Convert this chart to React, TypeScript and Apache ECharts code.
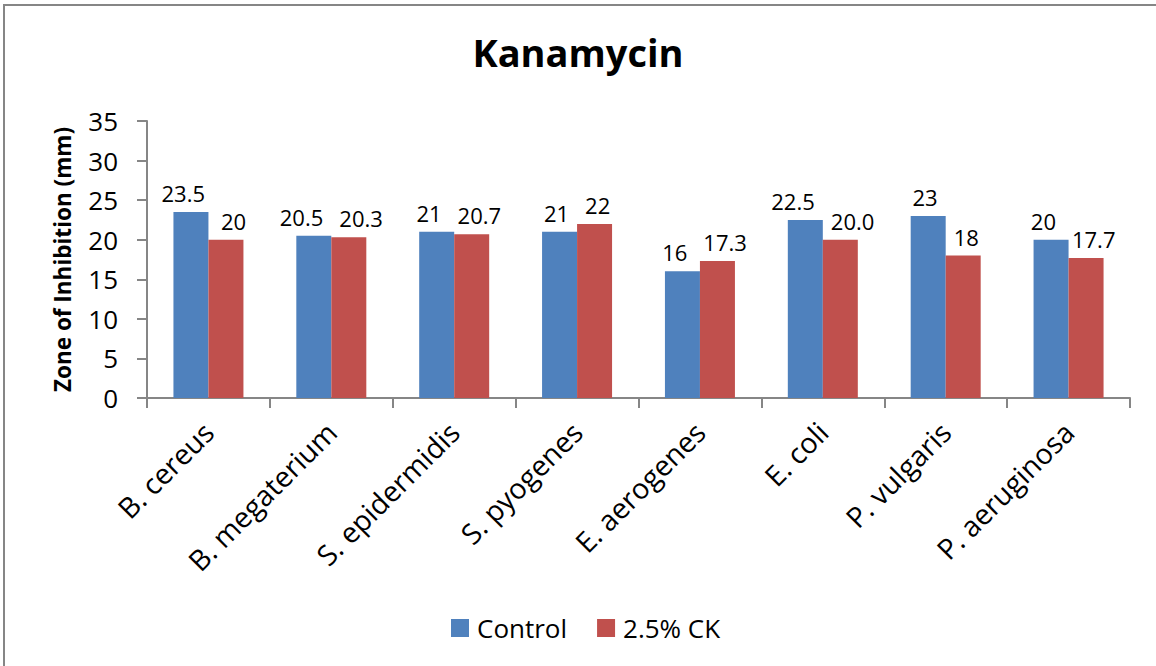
import React, { useEffect, useRef } from "react";
import * as echarts from "echarts";

const categories = [
  "B. cereus",
  "B. megaterium",
  "S. epidermidis",
  "S. pyogenes",
  "E. aerogenes",
  "E. coli",
  "P. vulgaris",
  "P. aeruginosa",
];
const controlValues = [23.5, 20.5, 21, 21, 16, 22.5, 23, 20];
const controlLabels = ["23.5", "20.5", "21", "21", "16", "22.5", "23", "20"];
const ckValues = [20, 20.3, 20.7, 22, 17.3, 20.0, 18, 17.7];
const ckLabels = ["20", "20.3", "20.7", "22", "17.3", "20.0", "18", "17.7"];
const seriesNames = ["Control", "2.5% CK"];
const yTicks = { min: 0, max: 35, interval: 5 };

const FONT = "'Open Sans', 'Noto Sans', sans-serif";
const LABEL_SIZE = 22;
const BAR_W = 35;
const MIN_LABEL_GAP = 16;

let measureCtx: CanvasRenderingContext2D | null = null;
function textWidth(s: string): number {
  if (!measureCtx) {
    measureCtx = document.createElement("canvas").getContext("2d");
  }
  if (!measureCtx) return s.length * LABEL_SIZE * 0.55;
  measureCtx.font = `${LABEL_SIZE}px 'Open Sans'`;
  return measureCtx.measureText(s).width;
}

// spread apart the two labels of a category when they would crowd each other
function labelLayout(p: any) {
  const i = p.dataIndex;
  const wb = textWidth(controlLabels[i]);
  const wr = textWidth(ckLabels[i]);
  const need = wb / 2 + wr / 2 + MIN_LABEL_GAP - BAR_W;
  if (need <= 0) return {};
  return { dx: p.seriesIndex === 0 ? -need / 2 : need / 2 };
}

export default function App() {
  const ref = useRef<HTMLDivElement>(null);
  useEffect(() => {
    document.body.style.margin = "0";
    if (!ref.current) return;
    const chart = echarts.init(ref.current, null, { renderer: "svg" });
    const axisColor = "#868686";
    const labelCfg = (labels: string[]) => ({
      show: true,
      position: "top",
      distance: 8,
      fontSize: LABEL_SIZE,
      color: "#000",
      fontFamily: FONT,
      formatter: (p: any) => labels[p.dataIndex],
    });
    chart.setOption({
      animation: false,
      backgroundColor: "#ffffff",
      textStyle: { fontFamily: FONT },
      title: {
        text: "Kanamycin",
        left: "center",
        top: 28,
        textStyle: { fontSize: 38, fontWeight: "bold", color: "#000", fontFamily: FONT },
      },
      graphic: [
        {
          type: "rect",
          shape: { x: 4, y: 5, width: 1200, height: 700 },
          style: { fill: "none", stroke: axisColor, lineWidth: 2 },
          silent: true,
        },
      ],
      legend: {
        data: seriesNames,
        left: 446,
        top: 610,
        icon: "rect",
        itemWidth: 18,
        itemHeight: 18,
        itemGap: 30,
        textStyle: { fontSize: 26, color: "#000", fontFamily: FONT, padding: [0, 0, 0, 3] },
      },
      grid: { left: 147, right: 26, top: 121, bottom: 268, containLabel: false },
      xAxis: {
        type: "category",
        data: categories,
        axisLine: { lineStyle: { color: axisColor, width: 2 } },
        axisTick: { show: true, length: 10, lineStyle: { color: axisColor, width: 2 } },
        axisLabel: {
          rotate: 45,
          fontSize: 28.5,
          color: "#000",
          fontFamily: FONT,
          margin: 29,
          interval: 0,
        },
      },
      yAxis: {
        type: "value",
        min: yTicks.min,
        max: yTicks.max,
        interval: yTicks.interval,
        name: "Zone of Inhibition (mm)",
        nameLocation: "middle",
        nameGap: 73,
        nameTextStyle: { fontSize: 22.5, fontWeight: "bold", color: "#000", fontFamily: FONT },
        axisLine: { show: true, lineStyle: { color: axisColor, width: 2 } },
        axisTick: { show: true, length: 10, lineStyle: { color: axisColor, width: 2 } },
        splitLine: { show: false },
        axisLabel: { fontSize: 26, color: "#000", fontFamily: FONT, margin: 29 },
      },
      series: [
        {
          name: seriesNames[0],
          type: "bar",
          data: controlValues,
          barWidth: BAR_W,
          barGap: "0%",
          itemStyle: { color: "#4F81BD" },
          label: labelCfg(controlLabels),
          labelLayout,
        },
        {
          name: seriesNames[1],
          type: "bar",
          data: ckValues,
          barWidth: BAR_W,
          barGap: "0%",
          itemStyle: { color: "#C0504D" },
          label: labelCfg(ckLabels),
          labelLayout,
        },
      ],
    });
    return () => chart.dispose();
  }, []);
  return <div ref={ref} style={{ width: 1156, height: 666 }} />;
}
